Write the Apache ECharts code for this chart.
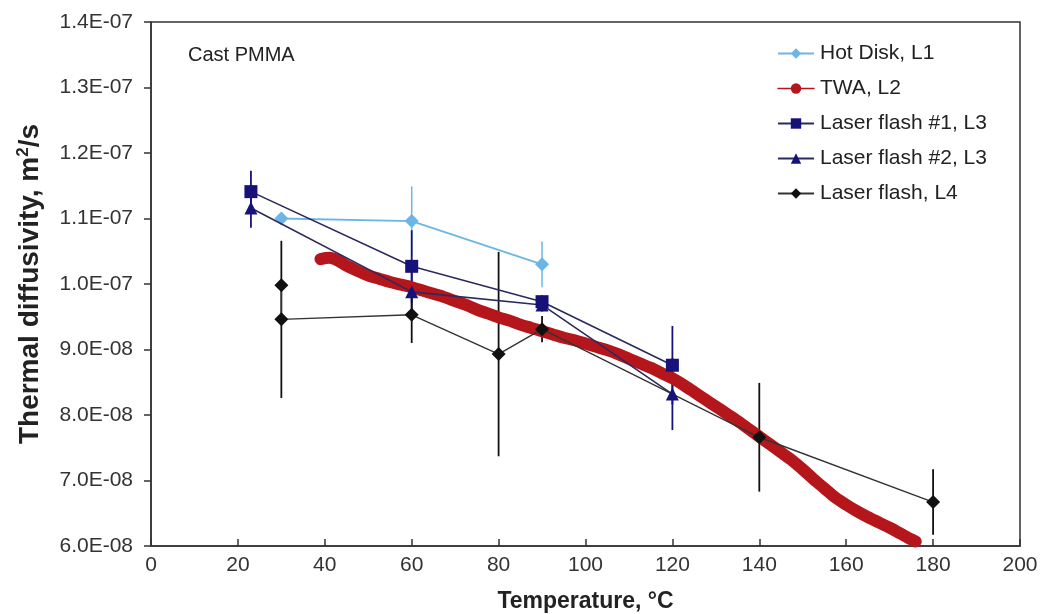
<!DOCTYPE html>
<html>
<head>
<meta charset="utf-8">
<script src="https://cdn.jsdelivr.net/npm/echarts@6/dist/echarts.min.js"></script>
<style>
html,body{margin:0;padding:0;background:#fff;}
#chart{width:1041px;height:614px;}
</style>
</head>
<body>
<div id="chart"></div>
<script>
// ---- data (thermal diffusivity in m^2/s, temperature in °C) ----
const yTicks = [6e-8, 7e-8, 8e-8, 9e-8, 1.0e-7, 1.1e-7, 1.2e-7, 1.3e-7, 1.4e-7];

const hotDiskT   = [30, 60, 90];
const hotDiskV   = [1.100e-7, 1.096e-7, 1.030e-7];
const hotDiskErr = [0, 0.053e-7, 0.035e-7];

const twaT = [39,41,43,45,47.5,50,52.5,55,57.5,60,62.5,65,67.5,70,72.5,75,77.5,80,82.5,85,87.5,90,92.5,95,97.5,100,102.5,105,107.5,110,112.5,115,117.5,120,122.5,125,127.5,130,132.5,135,137.5,140,142.5,145,147.5,150,152.5,155,157.5,160,162.5,165,167.5,170,172.5,175,176];
const twaV = [1.038,1.040,1.036,1.028,1.020,1.013,1.008,1.003,0.999,0.995,0.990,0.985,0.980,0.974,0.968,0.961,0.955,0.949,0.944,0.938,0.933,0.928,0.923,0.918,0.914,0.909,0.904,0.899,0.893,0.886,0.879,0.872,0.864,0.856,0.846,0.835,0.824,0.813,0.802,0.791,0.779,0.767,0.755,0.743,0.731,0.717,0.702,0.688,0.674,0.663,0.653,0.644,0.636,0.628,0.619,0.610,0.607].map(v => v * 1e-7);

const laser1T   = [23, 60, 90, 120];
const laser1V   = [1.141e-7, 1.027e-7, 0.973e-7, 0.876e-7];
const laser1Err = [0.032e-7, 0.055e-7, 0.010e-7, 0.060e-7];

const laser2T   = [23, 60, 90, 120];
const laser2V   = [1.116e-7, 0.988e-7, 0.968e-7, 0.832e-7];
const laser2Err = [0.030e-7, 0.040e-7, 0.010e-7, 0.055e-7];

const laserL4T   = [30, 30, 60, 80, 90, 140, 180];
const laserL4V   = [0.998e-7, 0.946e-7, 0.953e-7, 0.893e-7, 0.931e-7, 0.766e-7, 0.667e-7];
const laserL4Err = [0, 0.120e-7, 0.043e-7, 0.156e-7, 0.020e-7, 0.083e-7, 0.050e-7];

const names = ['Hot Disk, L1', 'TWA, L2', 'Laser flash #1, L3', 'Laser flash #2, L3', 'Laser flash, L4'];
const colors = {hot:'#6cb6e6', twa:'#b5161b', navy:'#16127a', black:'#111111'};

// ---- helpers ----
const pairs = (xs, ys) => xs.map((x, i) => [x, ys[i]]);
const errData = (xs, ys, es) => xs.map((x, i) => [x, ys[i] - es[i], ys[i] + es[i]]).filter((d, i) => es[i] > 0);

function errSeries(name, data, color, width) {
  return {
    type: 'custom', name: name, data: data, z: 1, silent: true,
    renderItem: function (params, api) {
      const lo = api.coord([api.value(0), api.value(1)]);
      const hi = api.coord([api.value(0), api.value(2)]);
      return { type: 'line', shape: {x1: lo[0], y1: lo[1], x2: hi[0], y2: hi[1]},
               style: {stroke: color, lineWidth: width} };
    }
  };
}

function fmtY(v) {
  const m = Math.round(v / 1e-9) / 10; // in units of 1e-8
  if (m >= 10) return (m / 10).toFixed(1) + 'E-07';
  return m.toFixed(1) + 'E-08';
}

const chart = echarts.init(document.getElementById('chart'), null, {renderer: 'canvas'});
const axisFont = 'Liberation Sans, Arial, sans-serif';

chart.setOption({
  backgroundColor: '#ffffff',
  animation: false,
  grid: {left: 151, right: 21, top: 22, bottom: 68, show: true, borderColor: '#333', borderWidth: 1.5,
         containLabel: false, outerBoundsMode: 'none'},
  legend: {
    orient: 'vertical', left: 772, top: 38, itemWidth: 36, itemHeight: 13, itemGap: 14,
    textStyle: {fontFamily: axisFont, fontSize: 21, color: '#222', padding: [0, 0, 0, 1]},
    data: [
      {name: names[0]},
      {name: names[1], lineStyle: {width: 1.5, color: colors.twa}},
      {name: names[2]},
      {name: names[3]},
      {name: names[4]}
    ]
  },
  graphic: [{
    type: 'text', left: 188, top: 45,
    style: {text: 'Cast PMMA', fontFamily: axisFont, fontSize: 20, fill: '#222'}
  }],
  xAxis: {
    type: 'value', min: 0, max: 200, interval: 20,
    name: 'Temperature, °C', nameLocation: 'middle', nameGap: 44,
    nameTextStyle: {fontFamily: axisFont, fontSize: 23, fontWeight: 'bold', color: '#222'},
    axisLine: {show: true, lineStyle: {color: '#333', width: 1.5}},
    axisTick: {show: true, inside: true, length: 7, lineStyle: {color: '#333', width: 1.5}},
    axisLabel: {fontFamily: axisFont, fontSize: 21, color: '#333', margin: 9},
    splitLine: {show: false}
  },
  yAxis: {
    type: 'value', min: yTicks[0], max: yTicks[yTicks.length - 1], interval: 1e-8,
    name: 'Thermal diffusivity, m{sup|2}/s', nameLocation: 'middle', nameGap: 105, nameRotate: 90,
    nameTextStyle: {fontFamily: axisFont, fontSize: 28, fontWeight: 'bold', color: '#222',
      rich: {sup: {fontFamily: axisFont, fontSize: 17, fontWeight: 'bold', color: '#222', verticalAlign: 'top', padding: [0, 0, 14, 0]}}},
    axisLine: {show: true, lineStyle: {color: '#333', width: 1.5}},
    axisTick: {show: true, inside: false, length: 7, lineStyle: {color: '#333', width: 1.5}},
    axisLabel: {fontFamily: axisFont, fontSize: 21, color: '#333', margin: 18, formatter: fmtY},
    splitLine: {show: false}
  },
  series: [
    errSeries('err-hot', errData(hotDiskT, hotDiskV, hotDiskErr), colors.hot, 1.5),
    errSeries('err-l1', errData(laser1T, laser1V, laser1Err), colors.navy, 1.8),
    errSeries('err-l2', errData(laser2T, laser2V, laser2Err), colors.navy, 1.8),
    errSeries('err-l4', errData(laserL4T, laserL4V, laserL4Err), colors.black, 1.8),
    {
      name: names[1], type: 'line', data: pairs(twaT, twaV), z: 2,
      symbol: 'circle', symbolSize: 7, showSymbol: false, smooth: 0.3,
      lineStyle: {color: colors.twa, width: 12, cap: 'round', join: 'round'},
      itemStyle: {color: colors.twa}
    },
    {
      name: names[0], type: 'line', data: pairs(hotDiskT, hotDiskV), z: 3,
      symbol: 'diamond', symbolSize: 14,
      lineStyle: {color: colors.hot, width: 1.8}, itemStyle: {color: colors.hot}
    },
    {
      name: names[2], type: 'line', data: pairs(laser1T, laser1V), z: 4,
      symbol: 'rect', symbolSize: 13,
      lineStyle: {color: '#2a2a5e', width: 1.6}, itemStyle: {color: colors.navy}
    },
    {
      name: names[3], type: 'line', data: pairs(laser2T, laser2V), z: 4,
      symbol: 'triangle', symbolSize: 13,
      lineStyle: {color: '#2a2a5e', width: 1.6}, itemStyle: {color: colors.navy}
    },
    {
      name: names[4], type: 'line', data: pairs(laserL4T, laserL4V), z: 4,
      symbol: 'diamond', symbolSize: 14,
      lineStyle: {color: '#333', width: 1.4}, itemStyle: {color: colors.black}
    }
  ]
});
</script>
</body>
</html>
